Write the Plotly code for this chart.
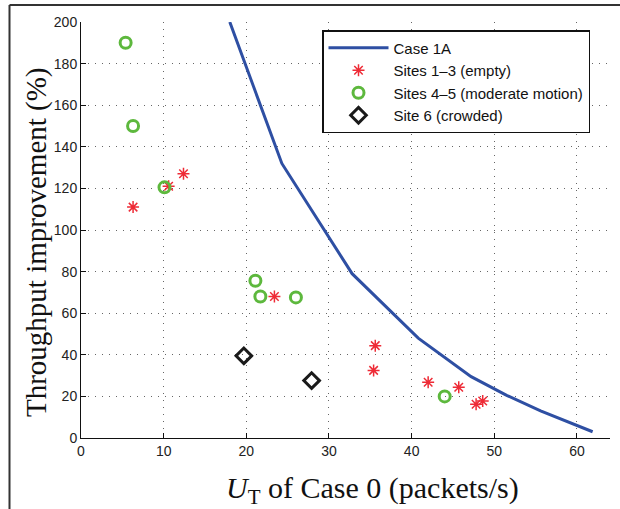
import plotly.graph_objects as go

# Case 1A curve
case1a_x = [18.0, 24.3, 32.8, 40.8, 47.2, 51.5, 55.6, 61.9]
case1a_y = [200, 132, 79, 48, 29.5, 20.5, 13, 3]

# Sites 1-3 (empty)
s13_x = [6.3, 12.4, 10.6, 23.4, 35.6, 35.4, 42.0, 45.7, 47.8, 48.6]
s13_y = [111, 127, 121, 68, 44.4, 32.5, 26.8, 24.4, 16.2, 17.8]

# Sites 4-5 (moderate motion)
s45_x = [5.4, 6.3, 10.1, 21.1, 21.7, 26.0, 44.0]
s45_y = [190, 150, 120.5, 75.6, 68, 67.6, 20]

# Site 6 (crowded)
s6_x = [19.7, 27.9]
s6_y = [39.5, 27.6]

x_ticks = [0, 10, 20, 30, 40, 50, 60]
y_ticks = [0, 20, 40, 60, 80, 100, 120, 140, 160, 180, 200]

W, H = 620, 509
ML, MR, MT, MB = 81, 10, 22, 71
PW, PH = W - ML - MR, H - MT - MB

def px2x(px):
    return (px - ML) / PW

def px2y(py):
    return (H - MB - py) / PH

fig = go.Figure()
fig.add_trace(go.Scatter(x=case1a_x, y=case1a_y, mode="lines", name="Case 1A",
                         line=dict(color="#2e4fa3", width=3)))
fig.add_trace(go.Scatter(x=s13_x, y=s13_y, mode="markers", name="Sites 1\u20133 (empty)",
                         marker=dict(symbol="asterisk-open", size=10, color="#ee2b36",
                                     line=dict(color="#ee2b36", width=1.5))))
fig.add_trace(go.Scatter(x=s45_x, y=s45_y, mode="markers", name="Sites 4\u20135 (moderate motion)",
                         marker=dict(symbol="circle-open", size=11, color="#5db83d",
                                     line=dict(color="#5db83d", width=3))))
fig.add_trace(go.Scatter(x=s6_x, y=s6_y, mode="markers", name="Site 6 (crowded)",
                         marker=dict(symbol="diamond-open", size=12, color="#1a1a1a",
                                     line=dict(color="#1a1a1a", width=3))))

axis_common = dict(
    showline=True, linecolor="#111", linewidth=1,
    ticks="inside", ticklen=5, tickcolor="#111",
    showgrid=True, gridcolor="#666", gridwidth=1, griddash="1px,6px",
    zeroline=False,
    tickfont=dict(family="Liberation Sans, Arial, sans-serif", size=14, color="#222"),
)

fig.update_xaxes(range=[0, 64], tickvals=x_ticks, **axis_common)
fig.update_yaxes(range=[0, 200], tickvals=y_ticks, **axis_common)

fig.update_layout(
    width=W, height=H,
    margin=dict(l=ML, r=MR, t=MT, b=MB),
    paper_bgcolor="white", plot_bgcolor="white",
    showlegend=True,
    legend=dict(x=px2x(322), y=px2y(30), xanchor="left", yanchor="top",
                bgcolor="white", bordercolor="#111", borderwidth=1.5,
                font=dict(family="Liberation Sans, Arial, sans-serif", size=15, color="#111"),
                tracegroupgap=0, itemwidth=60),
    annotations=[
        dict(text="<i>U</i><sub>T</sub> of Case 0 (packets/s)", xref="paper", yref="paper",
             x=px2x(372), y=px2y(490), xanchor="center", yanchor="middle", showarrow=False,
             font=dict(family="Liberation Serif, Times New Roman, serif", size=30, color="#111")),
        dict(text="Throughput improvement (%)", xref="paper", yref="paper",
             x=px2x(36), y=px2y(242), xanchor="center", yanchor="middle", showarrow=False,
             textangle=-90,
             font=dict(family="Liberation Serif, Times New Roman, serif", size=29, color="#111")),
    ],
    shapes=[
        dict(type="line", xref="paper", yref="paper", x0=px2x(9.5), x1=px2x(621),
             y0=px2y(5), y1=px2y(5), line=dict(color="#333", width=2)),
        dict(type="line", xref="paper", yref="paper", x0=px2x(9.5), x1=px2x(9.5),
             y0=px2y(5), y1=px2y(510), line=dict(color="#333", width=2)),
    ],
)

fig.write_html("out.html")
